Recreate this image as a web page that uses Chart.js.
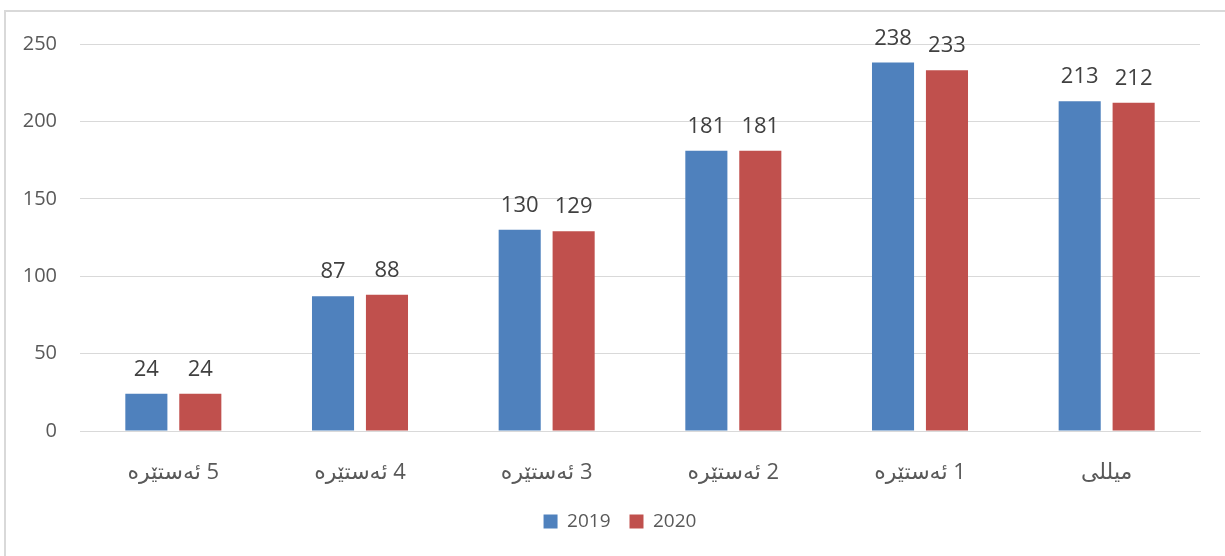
<!DOCTYPE html>
<html>
<head>
<meta charset="utf-8">
<script src="https://cdn.jsdelivr.net/npm/chart.js@4/dist/chart.umd.min.js"></script>
<style>
    html, body { margin: 0; padding: 0; background: #FFFFFF; }
    #wrap { position: relative; width: 1225px; height: 556px; overflow: hidden; }
    /* frame of the original chart, it runs past the right and bottom edge */
    #frame { position: absolute; left: 4px; top: 10px; width: 1300px; height: 700px; border: 2px solid #D9D9D9; box-sizing: border-box; }
    #chart { position: absolute; left: 0; top: 0; }
</style>
</head>
<body>
<div id="wrap">
    <div id="frame"></div>
    <canvas id="chart" width="1225" height="556"></canvas>
</div>
<script>
// --- Data ---
const categories = ['5 ئەستێرە', '4 ئەستێرە', '3 ئەستێرە', '2 ئەستێرە', '1 ئەستێرە', 'میللی'];
const values2019 = [24, 87, 130, 181, 238, 213];
const values2020 = [24, 88, 129, 181, 233, 212];
const yTicks = [0, 50, 100, 150, 200, 250];

const FONT = "'Open Sans', 'DejaVu Sans', sans-serif";

// Values above each bar (no datalabels plugin available offline)
const barValueLabels = {
    id: 'barValueLabels',
    afterDatasetsDraw(chart) {
        const ctx = chart.ctx;
        ctx.save();
        ctx.font = '22px ' + FONT;
        ctx.fillStyle = '#404040';
        ctx.textAlign = 'center';
        ctx.textBaseline = 'alphabetic';
        chart.data.datasets.forEach((ds, i) => {
            chart.getDatasetMeta(i).data.forEach((bar, j) => {
                ctx.fillText(ds.data[j], bar.x, bar.y - 18);
            });
        });
        ctx.restore();
    }
};

// legend in the original sits a bit right of the canvas centre
const nudgeLegend = {
    id: 'nudgeLegend',
    afterLayout(chart) {
        if (chart.legend) { chart.legend.left += 20; chart.legend.right += 20; }
    }
};

new Chart(document.getElementById('chart'), {
    type: 'bar',
    data: {
        labels: categories,
        datasets: [
            { label: '2019', data: values2019, backgroundColor: '#4F81BD' },
            { label: '2020', data: values2020, backgroundColor: '#C0504D' }
        ]
    },
    options: {
        responsive: false,
        animation: false,
        events: [],
        categoryPercentage: 0.578,
        barPercentage: 0.78,
        layout: { padding: { top: 44, right: 25, bottom: 15, left: 0 } },
        plugins: {
            tooltip: { enabled: false },
            legend: {
                position: 'bottom',
                labels: {
                    boxWidth: 14,
                    boxHeight: 14,
                    padding: 19,
                    color: '#595959',
                    font: { size: 19, family: FONT }
                }
            }
        },
        scales: {
            x: {
                grid: { display: false, drawTicks: false },
                border: { display: true, color: '#D9D9D9', width: 1 },
                ticks: {
                    padding: 29,
                    color: '#595959',
                    font: { size: 22, family: FONT },
                    // RLM so the digit sits on the right like the RTL original
                    callback: (v, i) => '\u200F' + categories[i]
                },
                afterFit: s => { s.height = 62; }
            },
            y: {
                min: 0,
                max: 250,
                afterBuildTicks: s => { s.ticks = yTicks.map(v => ({ value: v })); },
                grid: { color: '#D9D9D9', lineWidth: 1, drawTicks: false },
                border: { display: false },
                ticks: {
                    padding: 23,
                    color: '#595959',
                    font: { size: 20, family: FONT }
                },
                afterFit: s => { s.width = 80; }
            }
        }
    },
    plugins: [barValueLabels, nudgeLegend]
});
</script>
</body>
</html>
